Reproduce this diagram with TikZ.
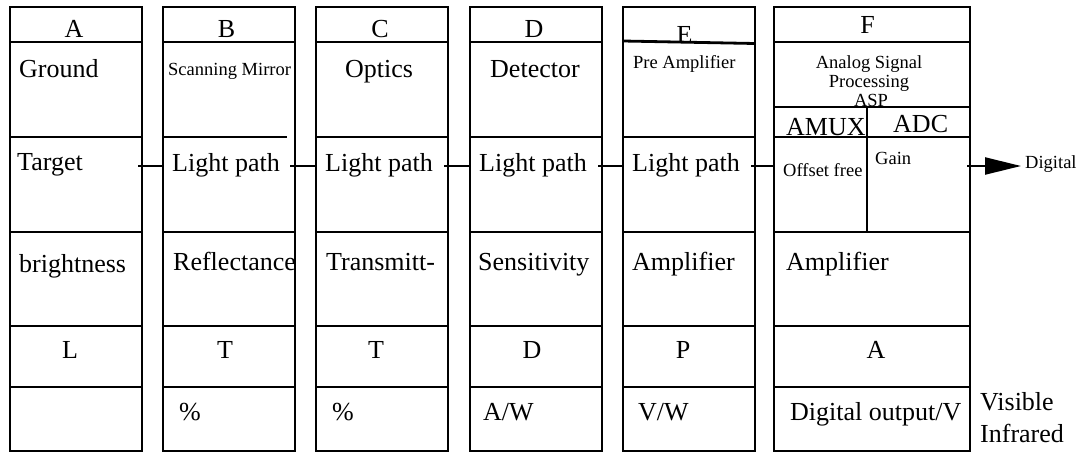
\documentclass[tikz,border=0pt]{standalone}
\usepackage{fontspec}
\setmainfont{Liberation Serif}
\usetikzlibrary{arrows.meta}
\begin{document}
\begin{tikzpicture}[x=1pt,y=-1pt,
  box/.style={draw, line width=2.8pt, minimum height=444pt, anchor=north west, inner sep=0pt, outer sep=0pt},
  rule/.style={line width=2.8pt},
  conn/.style={line width=2.2pt},
  big/.style={font=\fontsize{26}{30}\selectfont, inner sep=0pt},
  small/.style={font=\fontsize{18.5}{19}\selectfont, inner sep=0pt},
  lt/.style={anchor=base west},
  ct/.style={anchor=base}]
\useasboundingbox (0,0) rectangle (1083,453);
% column boxes
\node[box, minimum width=132pt] (A) at (10,7) {};
\node[box, minimum width=132pt] (B) at (163,7) {};
\node[box, minimum width=132pt] (C) at (316,7) {};
\node[box, minimum width=132pt] (D) at (470,7) {};
\node[box, minimum width=132pt] (E) at (623,7) {};
\node[box, minimum width=196pt] (F) at (774,7) {};
% row rules
\foreach \l/\r in {10/142,316/448,470/602,774/970}{
  \foreach \y in {42,137,232,326,387} \draw[rule] (\l,\y) -- (\r,\y);
}
\foreach \y in {42,232,326,387} \draw[rule] (163,\y) -- (295,\y);
\draw[rule] (163,137) -- (287,137);
\draw[rule] (623,41) -- (755,43.5);
\foreach \y in {137,232,326,387} \draw[rule] (623,\y) -- (755,\y);
\draw[rule] (774,107) -- (970,107);
\draw[rule] (867,107) -- (867,232);
% headers
\node[big,ct] (hA) at (74,37) {A};
\node[big,ct] (hB) at (226.5,37) {B};
\node[big,ct] (hC) at (380,37) {C};
\node[big,ct] (hD) at (534,37) {D};
\node[big,ct] (hE) at (684.5,43) {E};
\node[big,ct] (hF) at (867.5,33) {F};
% row 2
\node[big,lt] (r2A) at (19,77) {Ground};
\node[small,lt] (r2B) at (168,75) {Scanning Mirror};
\node[big,lt] (r2C) at (345,77) {Optics};
\node[big,lt] (r2D) at (490,77) {Detector};
\node[small,lt] (r2E) at (633,68) {Pre Amplifier};
\node[small,ct] (r2F1) at (869,68) {Analog Signal};
\node[small,ct] (r2F2) at (869,87) {Processing};
\node[small,ct] (r2F3) at (871,106) {ASP};
\node[big,lt] (amux) at (786,135) {AMUX};
\node[big,lt] (adc) at (893,132) {ADC};
% row 3
\node[big,lt] (r3A) at (17,170) {Target};
\node[big,lt] (r3B) at (172,171) {Light path};
\node[big,lt] (r3C) at (325,171) {Light path};
\node[big,lt] (r3D) at (479,171) {Light path};
\node[big,lt] (r3E) at (632,171) {Light path};
\node[small,lt] (off) at (783,176) {Offset free};
\node[small,lt] (gain) at (875,164) {Gain};
% row 4
\node[big,lt] (r4A) at (19,272) {brightness};
\node[big,lt] (r4B) at (173,270) {Reflectance};
\node[big,lt] (r4C) at (326,270) {Transmitt-};
\node[big,lt] (r4D) at (478,270) {Sensitivity};
\node[big,lt] (r4E) at (632,270) {Amplifier};
\node[big,lt] (r4F) at (786,270) {Amplifier};
% row 5
\node[big,ct] (r5A) at (70,358) {L};
\node[big,ct] (r5B) at (225,358) {T};
\node[big,ct] (r5C) at (376,358) {T};
\node[big,ct] (r5D) at (532,358) {D};
\node[big,ct] (r5E) at (683,358) {P};
\node[big,ct] (r5F) at (876,358) {A};
% row 6
\node[big,lt] (r6B) at (179,420) {\%};
\node[big,lt] (r6C) at (332,420) {\%};
\node[big,lt] (r6D) at (483,420) {A/W};
\node[big,lt] (r6E) at (638,420) {V/W};
\node[big,lt] (r6F) at (790,420) {Digital output/V};
\node[big,lt] (vis) at (980,410) {Visible};
\node[big,lt] (ir) at (980,442) {Infrared};
% connectors
\coordinate (oA) at (138,166);
\coordinate (oB) at (290,166);
\coordinate (oC) at (444,166);
\coordinate (oD) at (598,166);
\coordinate (oE) at (751,166);
\coordinate (oF) at (967,166);
\draw[conn] (oA) -- (B.west |- oA);
\draw[conn] (oB) -- (C.west |- oB);
\draw[conn] (oC) -- (D.west |- oC);
\draw[conn] (oD) -- (E.west |- oD);
\draw[conn] (oE) -- (F.west |- oE);
\node[small,anchor=west] (dig) at (1025,164) {Digital};
\draw[conn,-{Triangle[length=36pt,width=17pt]}] (oF) -- ([xshift=-4pt]dig.west |- oF);
\end{tikzpicture}
\end{document}
